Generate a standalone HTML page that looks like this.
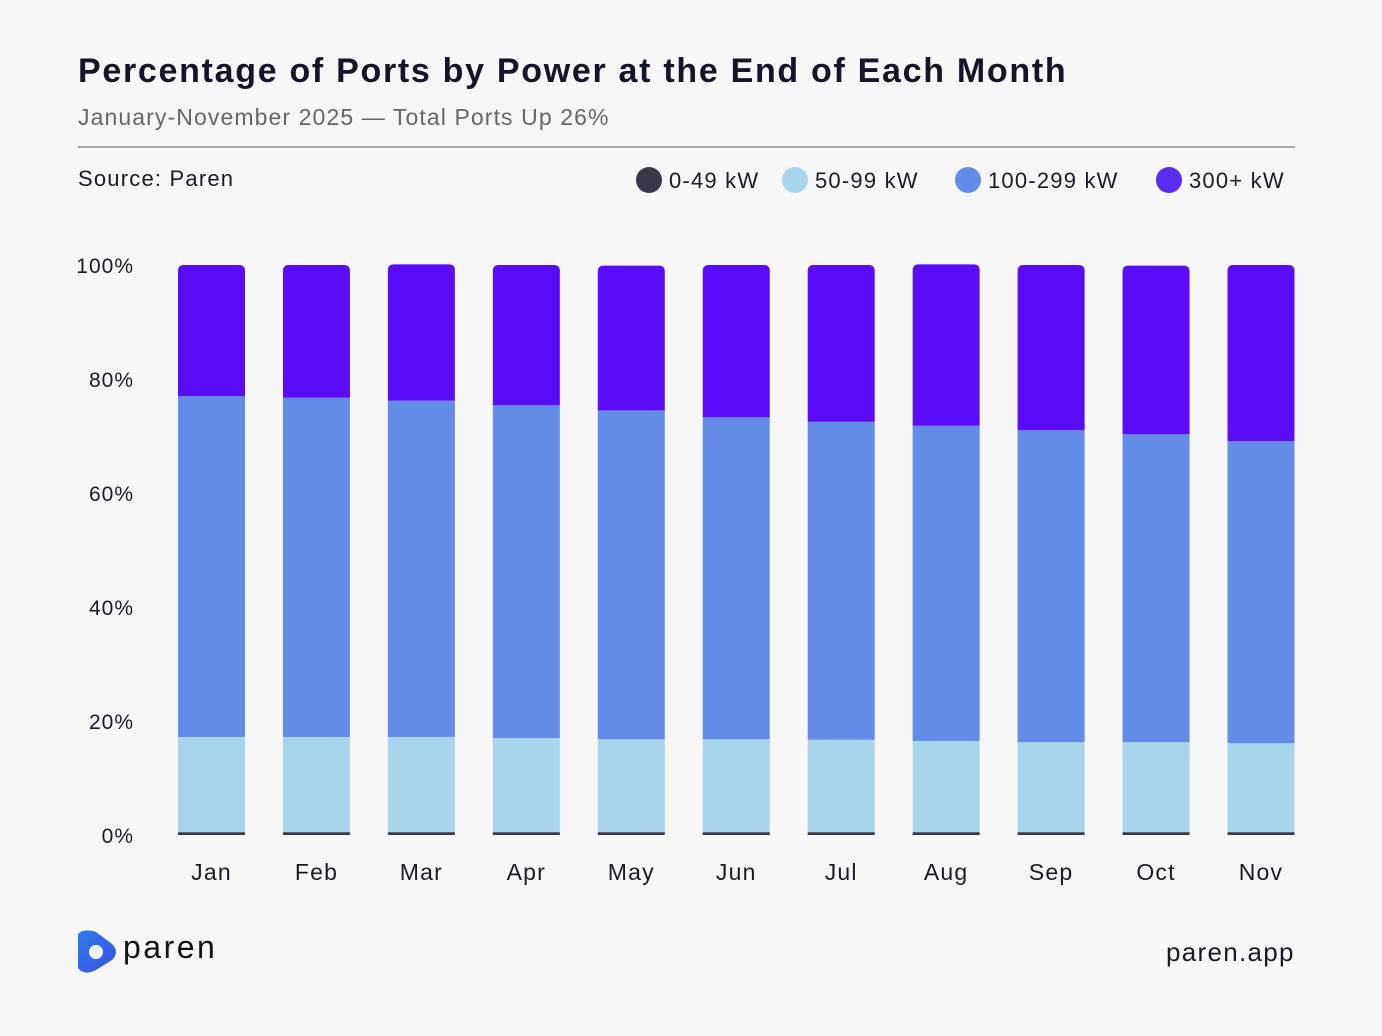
<!DOCTYPE html>
<html><head><meta charset="utf-8"><style>
body{margin:0;width:1382px;height:1036px;background:#f7f7f7;font-family:"Liberation Sans",sans-serif;color:#1a1a2a;position:relative;overflow:hidden}
.t{position:absolute;white-space:nowrap}
</style></head><body>
<div class="t" style="left:78px;top:52px;font-size:34px;font-weight:bold;color:#14142a;letter-spacing:1.7px">Percentage of Ports by Power at the End of Each Month</div>
<div class="t" style="left:78px;top:104px;font-size:23px;color:#666;letter-spacing:1.1px">January-November 2025 — Total Ports Up 26%</div>
<div style="position:absolute;left:78px;top:146px;width:1217px;height:2px;background:#aaa"></div>
<div class="t" style="left:78px;top:166px;font-size:22px;letter-spacing:1.2px">Source: Paren</div>
<svg id="c" width="1382" height="1036" style="position:absolute;left:0;top:0"></svg>
<div class="t" style="left:1166px;top:937px;font-size:26px;letter-spacing:1.3px">paren.app</div>
<script>
const months=["Jan","Feb","Mar","Apr","May","Jun","Jul","Aug","Sep","Oct","Nov"];
const s0=[0.5,0.5,0.5,0.5,0.5,0.5,0.5,0.5,0.5,0.5,0.5];
const s50=[16.7,16.7,16.7,16.5,16.3,16.3,16.2,16.0,15.8,15.8,15.6];
const s100=[59.8,59.5,59.0,58.4,57.7,56.5,55.8,55.3,54.7,54.0,53.0];
const s300=[23.0,23.3,23.9,24.6,25.4,26.7,27.5,28.3,29.0,29.6,30.9];
const yTicks=[0,20,40,60,80,100];
const seriesNames=["0-49 kW","50-99 kW","100-299 kW","300+ kW"];
const colors=["#3a3848","#a8d5ec","#628ce8","#5a0cf6"];
const NS="http://www.w3.org/2000/svg",svg=document.getElementById('c');
const y=v=>835-v*5.7, x=i=>178+i*104.95, bw=67;
function mk(t,a,txt){const e=document.createElementNS(NS,t);for(const k in a)e.setAttribute(k,a[k]);if(txt!=null)e.textContent=txt;svg.appendChild(e);return e;}
yTicks.forEach(v=>{const e=mk('text',{x:134,y:y(v)+8,'text-anchor':'end','font-size':21,fill:'#1a1a2a','font-family':'Liberation Sans','letter-spacing':1},v+'%');

});
const ser=[s0,s50,s100,s300];
months.forEach((m,i)=>{let cum=0;
ser.forEach((s,k)=>{const y0=y(cum),y1=y(cum+s[i]);cum+=s[i];let e;
if(k==3){const r=6,X=x(i),Y=y1,H=y0-y1;e=mk('path',{d:`M${X},${Y+H}V${Y+r}Q${X},${Y} ${X+r},${Y}H${X+bw-r}Q${X+bw},${Y} ${X+bw},${Y+r}V${Y+H}Z`,fill:colors[k]});}
else e=mk('rect',{x:x(i),y:y1,width:bw,height:y0-y1,fill:colors[k]});

});
const t=mk('text',{x:x(i)+bw/2,y:880,'text-anchor':'middle','font-size':23,fill:'#1a1a2a','font-family':'Liberation Sans','letter-spacing':1.2},m);

});
const lx=[649,795,968,1169];
seriesNames.forEach((n,k)=>{const c=mk('circle',{cx:lx[k],cy:180,r:13,fill:k==3?'#5a2cf0':colors[k]});


const t=mk('text',{x:lx[k]+20,y:188,'font-size':22,fill:'#1a1a2a','font-family':'Liberation Sans','letter-spacing':1.2},n);

});
const g=mk('g',{});


const d=document.createElementNS(NS,'defs');d.innerHTML='<linearGradient id="lg" x1="0" y1="0" x2="1" y2="1"><stop offset="0" stop-color="#2f7df0"/><stop offset="1" stop-color="#3a4fe0"/></linearGradient>';svg.appendChild(d);
mk('path',{d:'M78,934 Q84,928 96,932 L112,944 Q120,952 112,960 L96,970 Q84,976 78,968 Z',fill:'url(#lg)'});
mk('circle',{cx:96,cy:952,r:7,fill:'#f7f7f7'});
const lt=mk('text',{x:123,y:958,'font-size':32,fill:'#111','font-family':'Liberation Sans','letter-spacing':2.5},'paren');


</script>
</body></html>
